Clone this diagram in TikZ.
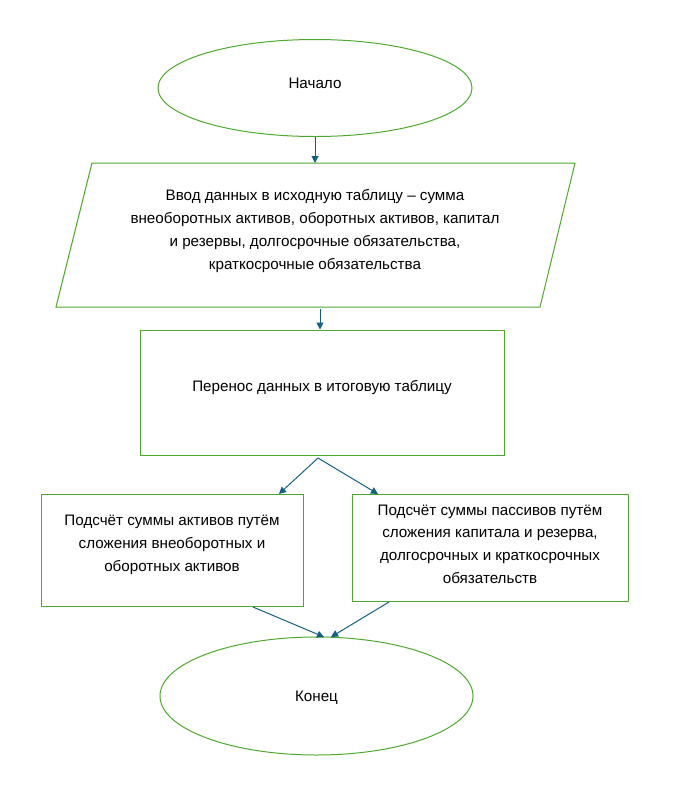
\documentclass[tikz,border=0pt]{standalone}
\usepackage{fontspec}
\setmainfont{Liberation Sans}
\usetikzlibrary{shapes.geometric,arrows.meta}
\definecolor{boxgreen}{HTML}{4EA72E}
\definecolor{arrowblue}{HTML}{156082}

\begin{document}
\begin{tikzpicture}[x=1pt,y=-1pt,
  every node/.style={font=\fontsize{15.2}{22.8}\selectfont, align=center},
  term/.style={ellipse, draw=boxgreen, line width=1pt, text depth=10pt},
  procbox/.style={rectangle, draw=boxgreen, line width=1pt, text depth=14pt},
  conn/.style={draw=arrowblue, line width=1pt, -{Triangle[length=7pt,width=7pt]}}]
\useasboundingbox (0,0) rectangle (687,807);

% terminals
\node[term, minimum width=314, minimum height=97] (start) at (315,88) {Начало};
\node[term, minimum width=313, minimum height=118, text depth=0pt] (finish) at (316.5,696) {Конец};

% data input
\draw[boxgreen, line width=1pt] (92,163) -- (575,163) -- (540,307) -- (56,307) -- cycle;
\node (input) at (315,231) {Ввод данных в исходную таблицу -- сумма\\
  внеоборотных активов, оборотных активов, капитал\\
  и резервы, долгосрочные обязательства,\\
  краткосрочные обязательства};
\coordinate (in-top) at (315,163);
\coordinate (in-bot) at (320,309);

% processing
\node[procbox, minimum width=364, minimum height=125] (transfer) at (322,392.5)
  {Перенос данных в итоговую таблицу};
\node[procbox, minimum width=262, minimum height=112] (assets) at (172,550)
  {Подсчёт суммы активов путём\\ сложения внеоборотных и\\ оборотных активов};
\node[procbox, minimum width=276, minimum height=107, text depth=7pt] (liab) at (490,547.5)
  {Подсчёт суммы пассивов путём\\ сложения капитала и резерва,\\
   долгосрочных и краткосрочных\\ обязательств};

\coordinate (split) at (318,458);
\coordinate (a-in) at (279,494);
\coordinate (l-in) at (378,494);
\coordinate (a-out) at (253,607);
\coordinate (l-out) at (389,602);
\coordinate (f-in1) at (324,637);
\coordinate (f-in2) at (331,637);

% connectors
\draw[conn] (start.south) -- (in-top);
\draw[conn] (in-bot) -- (in-bot |- transfer.north);
\draw[conn] (split) -- (a-in);
\draw[conn] (split) -- (l-in);
\draw[conn] (a-out) -- (f-in1);
\draw[conn] (l-out) -- (f-in2);
\end{tikzpicture}
\end{document}
